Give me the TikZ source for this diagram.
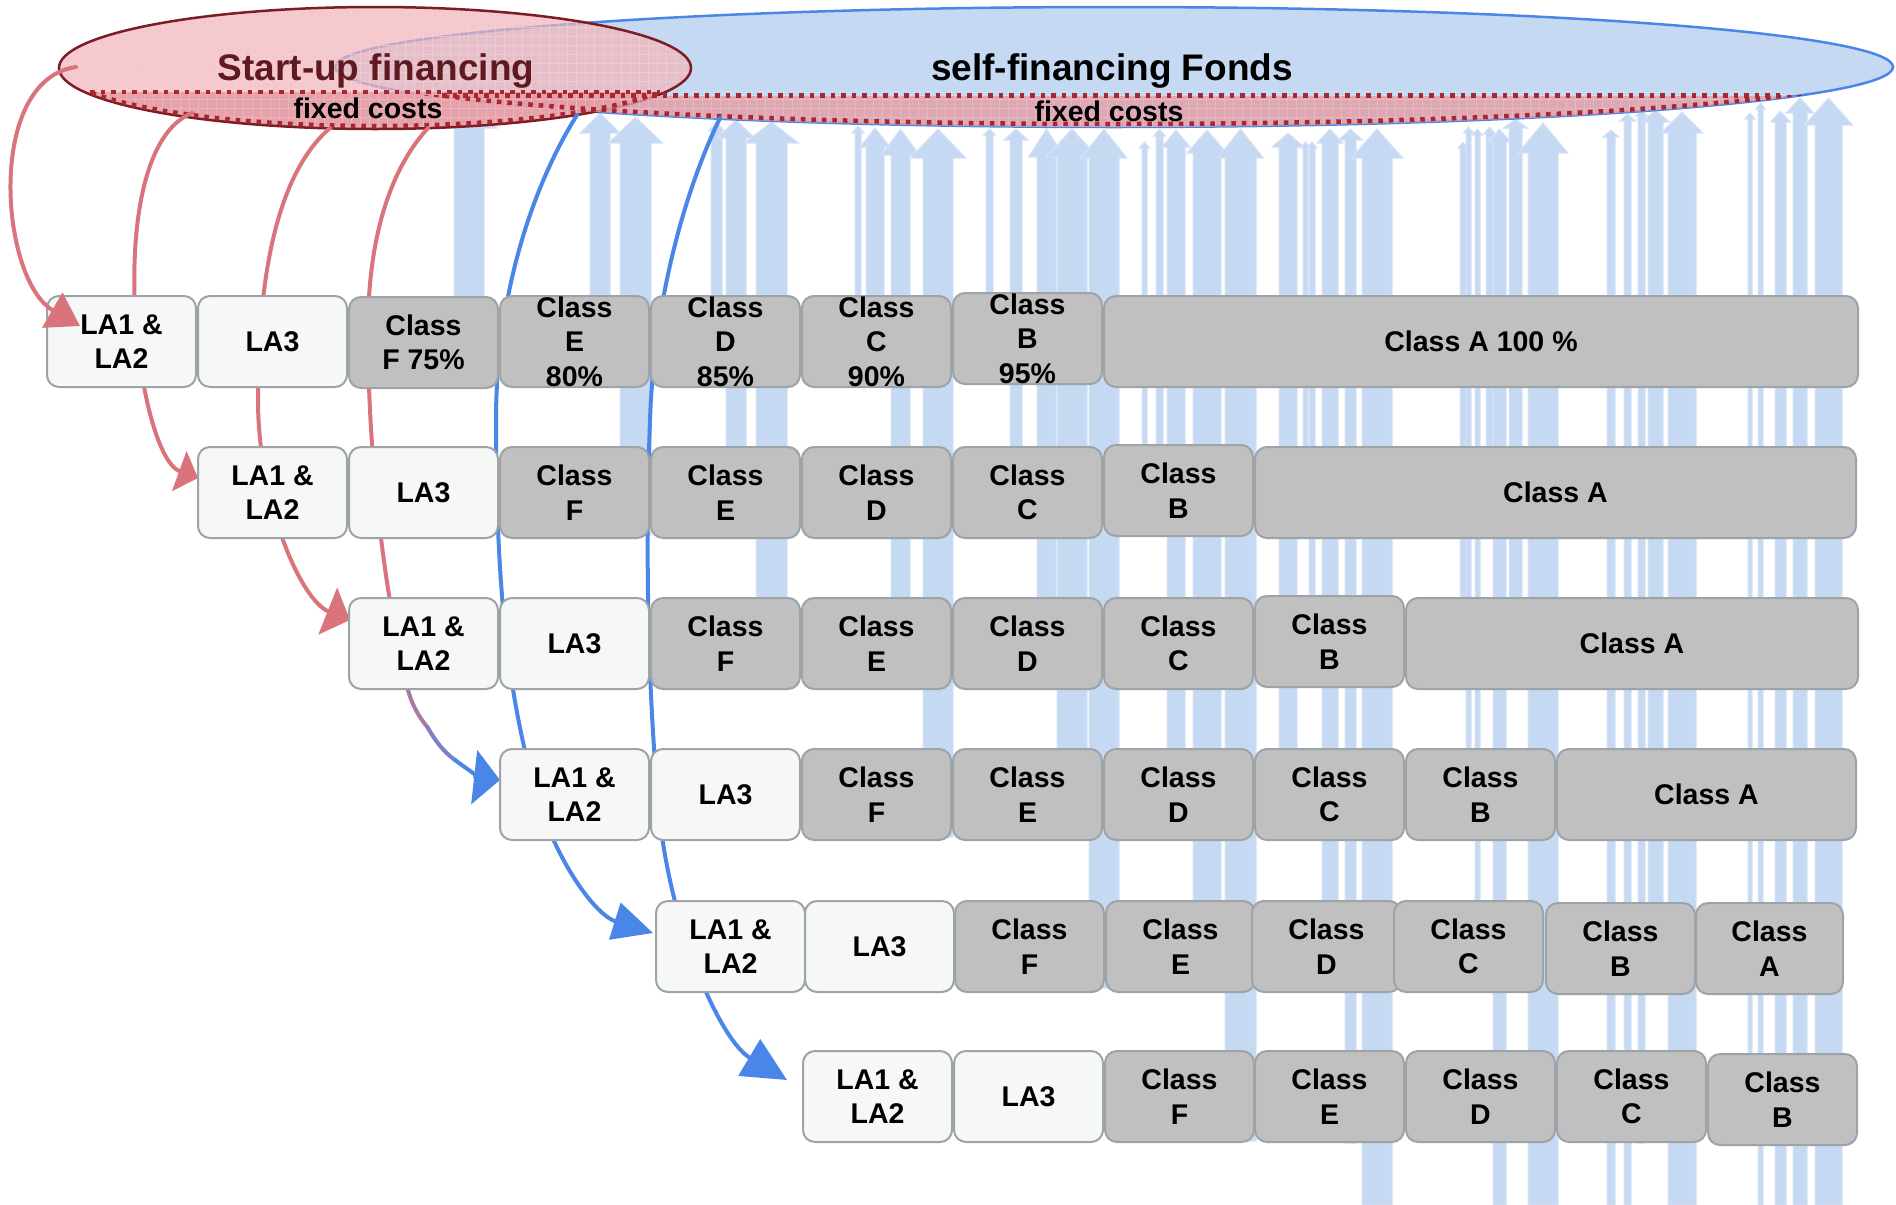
\documentclass[tikz,border=0pt]{standalone}
\usepackage{fontspec}
\setmainfont{Liberation Sans}
\usetikzlibrary{arrows.meta}
\definecolor{lafill}{HTML}{F6F8F7}
\definecolor{clfill}{HTML}{C0C0C0}
\definecolor{boxline}{HTML}{9EA3A7}
\definecolor{redc}{HTML}{D9747C}
\definecolor{bluec}{HTML}{4A86E8}
\definecolor{arrowblue}{HTML}{C6D9F3}
\definecolor{arrowedge}{HTML}{D6E3F6}
\definecolor{ellblue}{HTML}{C6D9F3}
\definecolor{ellred}{HTML}{F0B4B9}
\definecolor{ellredline}{HTML}{7B1D25}
\definecolor{bandfill}{HTML}{E39CA5}
\definecolor{dotred}{HTML}{A8262F}
\definecolor{titlered}{HTML}{5E1A20}
\definecolor{gridpink}{HTML}{F7D3D6}
\newcommand\boxfont{\fontsize{28.5}{34.5}\selectfont\bfseries}
\newcommand\titlefont{\fontsize{37}{44}\selectfont\bfseries}
\newcommand\barrow[6]{%
  \pgfmathsetmacro\bxc{(#1+#2)/2}%
  \filldraw[fill=arrowblue, draw=arrowedge, line width=1pt] (#1,#5) -- (#1,#4) -- (\bxc-#6,#4) -- (\bxc,#3) -- (\bxc+#6,#4) -- (#2,#4) -- (#2,#5) -- cycle;%
}
\tikzset{
  bx/.style={rounded corners=12pt, line width=2pt, draw=boxline, minimum width=149pt, minimum height=91pt, inner sep=0pt, align=center, font=\boxfont, anchor=north west},
  labox/.style={bx, fill=lafill},
  clbox/.style={bx, fill=clfill},
  dotb/.style={draw=dotred, line width=4.5pt, dash pattern=on 4.5pt off 6pt},
  redarr/.style={draw=redc, line width=4pt, line cap=round},
  bluearr/.style={draw=bluec, line width=4pt, line cap=round},
}
\begin{document}
\begin{tikzpicture}[x=1pt,y=-1pt]
\useasboundingbox (0,0) rectangle (1896,1205);
\fill[white] (0,0) rectangle (1896,1205);

% light-blue payment arrows: left x / right x / tip y / head base y / bottom y / head half width
\foreach \a/\b/\c/\d/\e/\f in {
454/484/100/128/384/28, 590/610/113/133/384/20, 620/651/117/143/535/27,
711/722/122/131/384/8, 726/746/120/138/535/19, 756/787/122/143/686/27,
855/861/126/133/384/6, 866/884/128/147/384/15, 891/910/129/155/686/19,
923/953/129/158/837/28, 986/993/129/135/384/6, 1010/1022/129/140/535/12,
1037/1056/129/157/686/18, 1057/1087/129/157/837/26, 1089/1119/129/158/988/23,
1142/1147/142/148/535/5, 1156/1163/129/136/535/6, 1167/1185/130/147/837/14,
1193/1221/130/153/988/20, 1225/1256/129/158/1141/23, 1279/1297/133/147/837/16,
1303/1308/142/148/535/5, 1309/1315/142/148/686/5, 1322/1338/129/143/988/13,
1345/1356/129/140/1143/12, 1362/1392/129/158/1205/26, 1460/1466/142/148/686/5,
1466/1471/127/133/837/5, 1475/1480/129/135/988/5, 1486/1493/127/134/535/6,
1493/1506/129/142/1205/11, 1509/1522/119/128/686/12, 1528/1558/123/153/1205/25,
1607/1615/130/137/1205/8, 1624/1631/114/121/1205/8, 1638/1645/110/116/1143/6,
1648/1663/110/122/988/14, 1668/1696/112/133/1205/21, 1748/1752/113/119/1143/5,
1758/1763/103/109/1205/5, 1775/1786/111/122/1205/10, 1793/1807/98/113/1205/14,
1815/1842/98/125/1205/24}{\barrow{\a}{\b}{\c}{\d}{\e}{\f}}

% self-financing ellipse
\path[fill=ellblue, draw=bluec, line width=2.5pt] (1114,67) ellipse [x radius=779, y radius=60];

% start-up ellipse
\path[fill=ellred, fill opacity=0.72] (375,68) ellipse [x radius=316, y radius=61];
\begin{scope}
  \clip (375,68) ellipse [x radius=316, y radius=61];
  \draw[gridpink, line width=0.8pt, opacity=0.6] (50,0) grid[step=9pt] (700,140);
  \fill[bandfill, opacity=0.85] (0,92) rectangle (700,140);
  \draw[gridpink, line width=0.8pt, opacity=0.35] (50,92) grid[step=9pt] (700,140);
\end{scope}
\draw[ellredline, line width=2.5pt] (375,68) ellipse [x radius=316, y radius=61];

% fixed-cost band of the fund
\begin{scope}
  \clip (1114,67) ellipse [x radius=779, y radius=60];
  \fill[bandfill, opacity=0.8] (300,95.5) rectangle (1900,140);
  \draw[gridpink, line width=0.8pt, opacity=0.35] (300,95.5) grid[step=9pt] (1900,140);
\end{scope}

% dotted borders
\draw[dotb] (90,92) -- (660,92);
\begin{scope}
  \clip (0,92) rectangle (700,140);
  \draw[dotb] (375,68) ellipse [x radius=313, y radius=58];
\end{scope}
\draw[dotb] (442,95.5) -- (1786,95.5);
\begin{scope}
  \clip (300,95.5) rectangle (1900,140);
  \draw[dotb] (1114,67) ellipse [x radius=776, y radius=57];
\end{scope}

% titles
\node[font=\titlefont, text=titlered, anchor=base] (tstart) at (376,80) {Start-up financing};
\node[font=\titlefont, anchor=base] (tself) at (1112,80) {self-financing Fonds};
\node[font=\boxfont, anchor=base] (fc1) at (368,118) {fixed costs};
\node[font=\boxfont, anchor=base] (fc2) at (1109,121) {fixed costs};

% connector end points
\coordinate (rs1) at (76,67);   \coordinate (rt1) at (80,326);
\coordinate (rs2) at (192,113); \coordinate (rt2) at (198,478);
\coordinate (rs3) at (330,128); \coordinate (rt3) at (350,620);
\coordinate (rs4) at (428,128); \coordinate (rt4) at (500,780);
\coordinate (bs1) at (577,115); \coordinate (bt1) at (653,933);
\coordinate (bs2) at (720,118); \coordinate (bt2) at (787,1080);

% curved connectors (behind the boxes)
\draw[redarr, -{Triangle[length=20pt,width=42pt]}] (rs2) .. controls (100,150) and (135,455) .. (rt2);
\draw[redarr] (rs3) .. controls (270,180) and (258,300) .. (258,400);
\draw[redarr, -{Triangle[length=24pt,width=50pt]}] (258,400) .. controls (258,500) and (300,600) .. (rt3);
\draw[redarr] (rs4) .. controls (385,175) and (368,250) .. (368,330) .. controls (368,480) and (390,620) .. (408,690);
\draw[line width=4pt, line cap=round, draw=redc!65!bluec] (408,690) .. controls (412,705) and (419,717) .. (428,728);
\draw[line width=4pt, line cap=round, draw=redc!35!bluec] (428,728) .. controls (436,742) and (444,752) .. (455,760);
\draw[bluearr, -{Triangle[length=26pt,width=54pt]}] (455,760) .. controls (468,770) and (482,778) .. (rt4);
\draw[bluearr, -{Triangle[length=40pt,width=38pt]}] (bs1) .. controls (530,190) and (496,300) .. (496,420) .. controls (496,600) and (510,700) .. (535,790) .. controls (555,860) and (595,915) .. (bt1);
\draw[bluearr, -{Triangle[length=44pt,width=42pt]}] (bs2) .. controls (685,190) and (654,300) .. (650,420) .. controls (645,560) and (648,700) .. (660,820) .. controls (672,930) and (720,1040) .. (bt2);

% row 0
\node[labox] (a0) at (46,295) {LA1 \&\\LA2};
\node[labox] (b0) at (197,295) {LA3};
\node[clbox] (c0) at (348,296) {Class\\F 75\%};
\node[clbox] (d0) at (499,295) {Class\\E\\80\%};
\node[clbox] (e0) at (650,295) {Class\\D\\85\%};
\node[clbox] (f0) at (801,295) {Class\\C\\90\%};
\node[clbox] (g0) at (952,292) {Class\\B\\95\%};
\node[clbox, minimum width=754pt] (h0) at (1103,295) {Class A 100 \%};
% row 1
\node[labox] (a1) at (197,446) {LA1 \&\\LA2};
\node[labox] (b1) at (348,446) {LA3};
\node[clbox] (c1) at (499,446) {Class\\F};
\node[clbox] (d1) at (650,446) {Class\\E};
\node[clbox] (e1) at (801,446) {Class\\D};
\node[clbox] (f1) at (952,446) {Class\\C};
\node[clbox] (g1) at (1103,444) {Class\\B};
\node[clbox, minimum width=601pt] (h1) at (1254,446) {Class A};
% row 2
\node[labox] (a2) at (348,597) {LA1 \&\\LA2};
\node[labox] (b2) at (499,597) {LA3};
\node[clbox] (c2) at (650,597) {Class\\F};
\node[clbox] (d2) at (801,597) {Class\\E};
\node[clbox] (e2) at (952,597) {Class\\D};
\node[clbox] (f2) at (1103,597) {Class\\C};
\node[clbox] (g2) at (1254,595) {Class\\B};
\node[clbox, minimum width=452pt] (h2) at (1405,597) {Class A};
% row 3
\node[labox] (a3) at (499,748) {LA1 \&\\LA2};
\node[labox] (b3) at (650,748) {LA3};
\node[clbox] (c3) at (801,748) {Class\\F};
\node[clbox] (d3) at (952,748) {Class\\E};
\node[clbox] (e3) at (1103,748) {Class\\D};
\node[clbox] (f3) at (1254,748) {Class\\C};
\node[clbox] (g3) at (1405,748) {Class\\B};
\node[clbox, minimum width=299pt] (h3) at (1556,748) {Class A};
% row 4
\node[labox] (a4) at (655,900) {LA1 \&\\LA2};
\node[labox] (b4) at (804,900) {LA3};
\node[clbox] (c4) at (954,900) {Class\\F};
\node[clbox] (d4) at (1105,900) {Class\\E};
\node[clbox] (e4) at (1251,900) {Class\\D};
\node[clbox] (f4) at (1393,900) {Class\\C};
\node[clbox] (g4) at (1545,902) {Class\\B};
\node[clbox, minimum width=147pt] (h4) at (1695,902) {Class\\A};
% row 5
\node[labox] (a5) at (802,1050) {LA1 \&\\LA2};
\node[labox] (b5) at (953,1050) {LA3};
\node[clbox] (c5) at (1104,1050) {Class\\F};
\node[clbox] (d5) at (1254,1050) {Class\\E};
\node[clbox] (e5) at (1405,1050) {Class\\D};
\node[clbox] (f5) at (1556,1050) {Class\\C};
\node[clbox] (g5) at (1707,1053) {Class\\B};

% first connector: its head lies over the first box
\draw[redarr, -{Triangle[length=32pt,width=40pt]}] (rs1) .. controls (-15,80) and (0,280) .. (rt1);
\end{tikzpicture}
\end{document}
